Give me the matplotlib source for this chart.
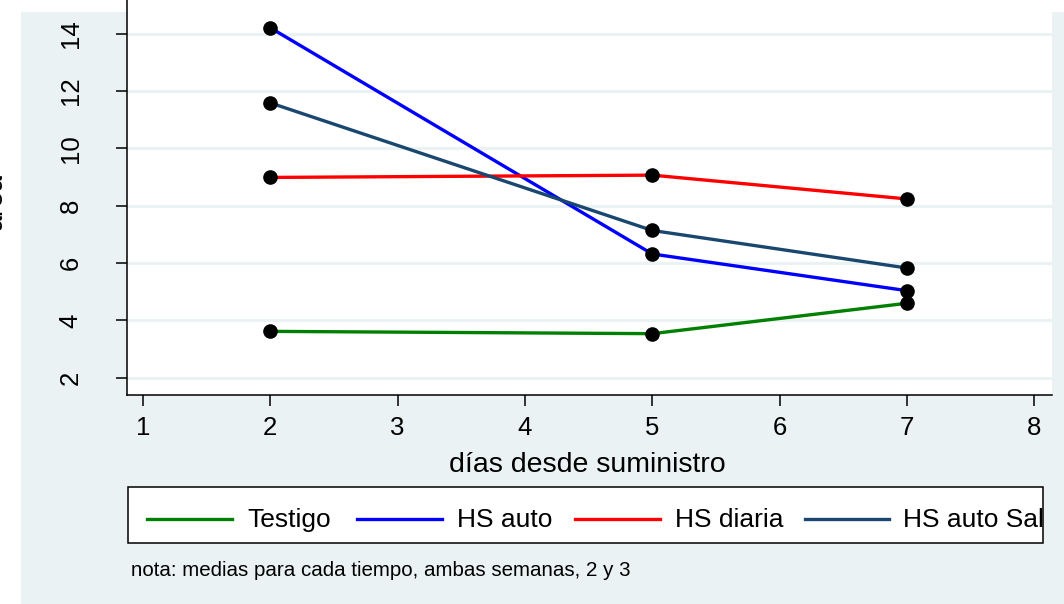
import matplotlib
matplotlib.use("Agg")
import matplotlib.pyplot as plt
from matplotlib.patches import Rectangle
from matplotlib.lines import Line2D

# mean area per day since supply, for each treatment
dias = [2, 5, 7]
testigo = [3.62, 3.54, 4.60]
hs_auto = [14.21, 6.32, 5.04]
hs_diaria = [8.99, 9.07, 8.24]
hs_auto_sal = [11.59, 7.14, 5.83]

series_names = ["Testigo", "HS auto", "HS diaria", "HS auto Sal"]
series_values = [testigo, hs_auto, hs_diaria, hs_auto_sal]
series_colors = ["#008000", "#0000FF", "#FF0000", "#1A476F"]

x_ticks = [1, 2, 3, 4, 5, 6, 7, 8]
y_ticks = [2, 4, 6, 8, 10, 12, 14]

BG = "#EAF2F3"
W, H = 1064, 604

plt.rcParams["font.family"] = ["Liberation Sans", "DejaVu Sans"]

fig = plt.figure(figsize=(W / 100, H / 100), dpi=100)
fig.patch.set_facecolor("white")

def fx(px):
    return px / W

def fy(py):
    return 1 - py / H

# outer graph region behind everything
fig.add_artist(Rectangle((fx(21), 0), 1 - fx(21), fy(12), transform=fig.transFigure,
                         facecolor=BG, edgecolor="none", zorder=-10))

ax = fig.add_axes([fx(127), fy(395), fx(1052) - fx(127), fy(0) - fy(395)])
ax.set_zorder(1)
ax.set_facecolor("white")
ax.set_xlim(0.874, 8.14)
ax.set_ylim(1.40, 15.18)

for y in y_ticks:
    ax.axhline(y, color=BG, lw=2.2, zorder=1)

for name, vals, col in zip(series_names, series_values, series_colors):
    ax.plot(dias, vals, color=col, lw=2.4, zorder=3, solid_capstyle="butt")
    ax.plot(dias, vals, ls="none", marker="o", ms=9.5, color="black", zorder=4)

for side in ["top", "right"]:
    ax.spines[side].set_visible(False)
for side in ["left", "bottom"]:
    ax.spines[side].set_linewidth(1.1)
    ax.spines[side].set_color("black")

ax.set_xticks(x_ticks)
ax.set_xticklabels([str(v) for v in x_ticks], fontsize=18.5)
ax.set_yticks(y_ticks)
ax.set_yticklabels([str(v) for v in y_ticks], fontsize=18.5, rotation=90, va="center")
ax.tick_params(axis="both", direction="out", length=8, width=1.1, color="black")
ax.tick_params(axis="x", pad=7)
ax.tick_params(axis="y", pad=24)

fig.text(fx(587), fy(465), "días desde suministro", fontsize=20.5, ha="center", va="center",
         zorder=5)
fig.text(fx(8), fy(201), "área", fontsize=20.5, rotation=90, ha="right", va="center", zorder=5)

# legend box
lx0, ly0, lx1, ly1 = 128, 487, 1043, 543
fig.add_artist(Rectangle((fx(lx0), fy(ly1)), fx(lx1) - fx(lx0), fy(ly0) - fy(ly1),
                         transform=fig.transFigure, facecolor="white",
                         edgecolor="black", lw=1.1, zorder=2))
clip_box = Rectangle((fx(lx0), fy(ly1)), fx(lx1) - fx(lx0), fy(ly0) - fy(ly1),
                     transform=fig.transFigure, facecolor="none", edgecolor="none")
line_x = [(147, 232), (357, 442), (575, 660), (805, 889)]
text_x = [247, 457, 675, 903]
ly = 519
for name, col, (a, b), tx in zip(series_names, series_colors, line_x, text_x):
    fig.add_artist(Line2D([fx(a), fx(b)], [fy(ly), fy(ly)], transform=fig.transFigure,
                          color=col, lw=2.4, zorder=3))
    t = fig.text(fx(tx), fy(ly + 1), name, fontsize=19.0, ha="left", va="center", zorder=3)
    t.set_clip_path(clip_box)

fig.text(fx(131), fy(570), "nota: medias para cada tiempo, ambas semanas, 2 y 3",
         fontsize=14.8, ha="left", va="center", zorder=5)

fig.savefig("out.png", dpi=100, facecolor=fig.get_facecolor())
